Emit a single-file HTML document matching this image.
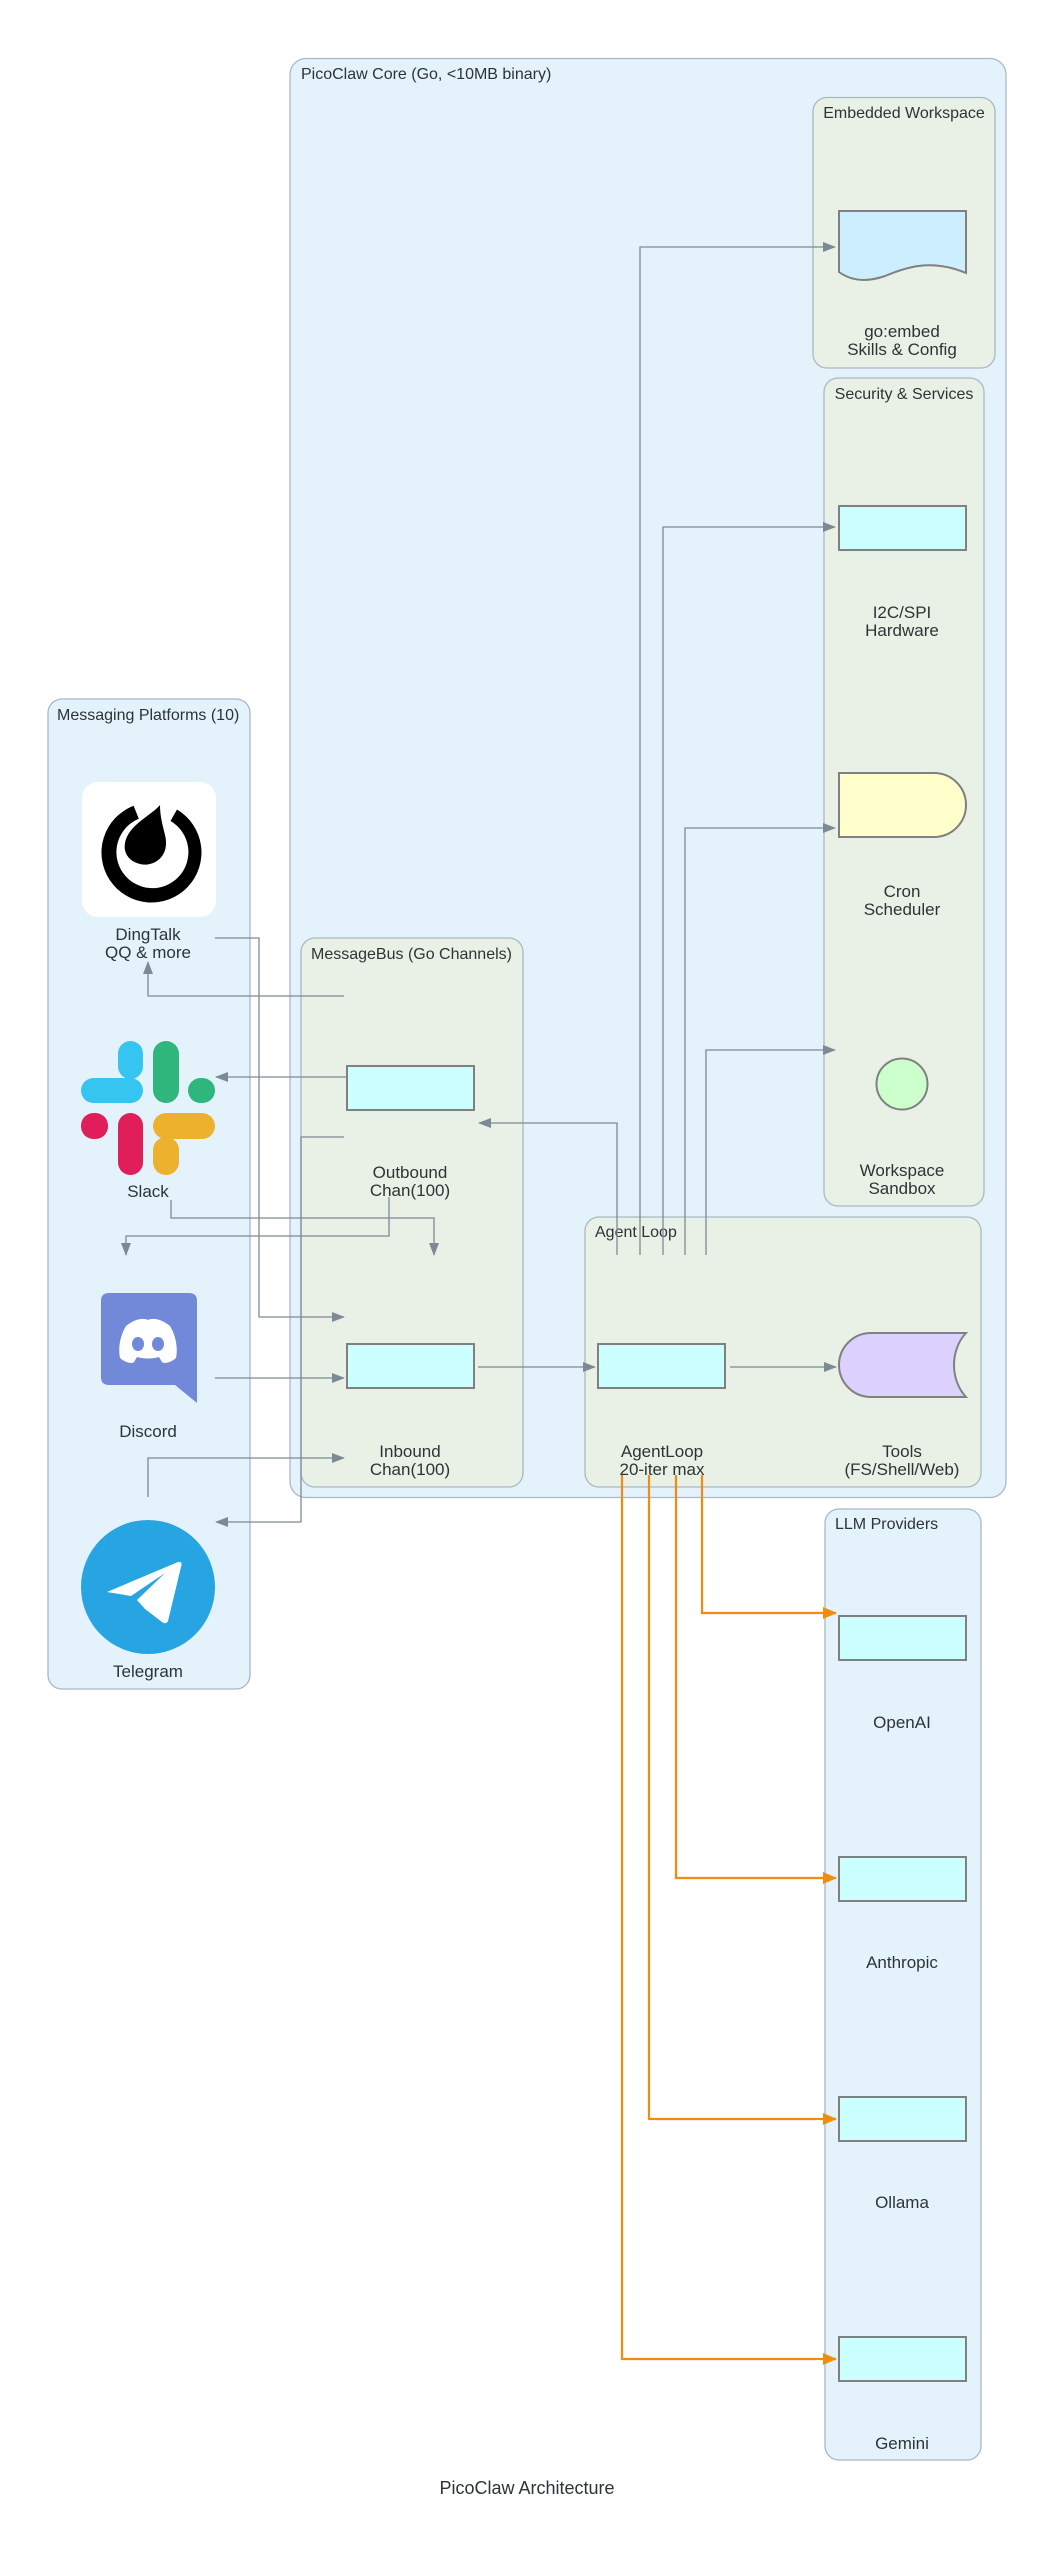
<!DOCTYPE html>
<html><head><meta charset="utf-8"><style>
html,body{margin:0;padding:0;background:#fff;}
svg{display:block;}
text{font-family:"Liberation Sans",Arial,sans-serif;fill:#2d3436;}
.ct{font-size:16px;}
.lb{font-size:17px;text-anchor:middle;}
.e{fill:none;stroke:#7b8a95;stroke-width:1.3;}
.o{fill:none;stroke:#f28c0f;stroke-width:2.2;}
.n{fill:#ccffff;stroke:#808080;stroke-width:2;}
</style></head><body>
<svg width="1054" height="2549" viewBox="0 0 1054 2549" xmlns="http://www.w3.org/2000/svg">
<defs>
<marker id="ag" markerWidth="13" markerHeight="10" refX="12" refY="5" orient="auto" markerUnits="userSpaceOnUse" viewBox="0 0 13 10"><path d="M0,0 L13,5 L0,10 z" fill="#7b8a95"/></marker>
<marker id="ao" markerWidth="14" markerHeight="12" refX="13" refY="6" orient="auto" markerUnits="userSpaceOnUse" viewBox="0 0 14 12"><path d="M0,0 L14,6 L0,12 z" fill="#f28c0f"/></marker>
</defs>

<rect x="290" y="58.5" width="716" height="1439" rx="16" fill="#e4f2fb" stroke="#a9b8c2" stroke-width="1.3"/>
<text class="ct" x="301" y="79">PicoClaw Core (Go, &lt;10MB binary)</text>

<rect x="813" y="97.5" width="182" height="270.5" rx="14" fill="#e9f1e7" stroke="#a9b8c2" stroke-width="1.3"/>
<text class="ct" x="904" y="118" text-anchor="middle">Embedded Workspace</text>
<path d="M839,211 L966,211 L966,273 C930,258 905,268 885,276 C865,283 850,280 839,272 Z" fill="#cceeff" stroke="#808080" stroke-width="2"/>
<text class="lb" x="902" y="337">go:embed</text>
<text class="lb" x="902" y="355">Skills &amp; Config</text>

<rect x="824" y="378" width="160" height="828" rx="14" fill="#e9f1e7" stroke="#a9b8c2" stroke-width="1.3"/>
<text class="ct" x="904" y="399" text-anchor="middle">Security &amp; Services</text>
<rect class="n" x="839" y="506" width="127" height="44"/>
<text class="lb" x="902" y="618">I2C/SPI</text>
<text class="lb" x="902" y="636">Hardware</text>
<path d="M839,773 L934,773 A32,32 0 0 1 934,837 L839,837 Z" fill="#ffffcc" stroke="#808080" stroke-width="2"/>
<text class="lb" x="902" y="897">Cron</text>
<text class="lb" x="902" y="915">Scheduler</text>
<circle cx="902" cy="1084" r="25.5" fill="#ccffcc" stroke="#808080" stroke-width="2"/>
<text class="lb" x="902" y="1176">Workspace</text>
<text class="lb" x="902" y="1194">Sandbox</text>

<rect x="48" y="699" width="202" height="990" rx="14" fill="#e4f2fb" stroke="#a9b8c2" stroke-width="1.3"/>
<text class="ct" x="57" y="720">Messaging Platforms (10)</text>
<rect x="82" y="782" width="134" height="135" rx="16" fill="#fff"/>
<path d="M133.6,805.8 A50,50 0 1 0 177,809.5 L170.5,821 A36,36 0 1 1 138.8,818.8 Z" fill="#000"/>
<path d="M160,805 C152,815 128,825 125,843 C122,860 140,867 150,864 C165,860 168,846 165,835 C162,823 160,815 160,805 Z" fill="#000"/>
<text class="lb" x="148" y="940">DingTalk</text>
<text class="lb" x="148" y="958">QQ &amp; more</text>

<rect x="118" y="1041" width="25" height="38" rx="12.5" fill="#36c5f0"/>
<rect x="81" y="1078" width="62" height="25" rx="12.5" fill="#36c5f0"/>
<rect x="153" y="1041" width="26" height="62" rx="13" fill="#2eb67d"/>
<rect x="188" y="1078" width="27" height="25" rx="12.5" fill="#2eb67d"/>
<rect x="81" y="1113" width="27" height="26" rx="12.5" fill="#e01e5a"/>
<rect x="118" y="1113" width="25" height="62" rx="12.5" fill="#e01e5a"/>
<rect x="153" y="1113" width="62" height="26" rx="13" fill="#ecb22e"/>
<rect x="153" y="1137" width="26" height="38" rx="13" fill="#ecb22e"/>
<text class="lb" x="148" y="1197">Slack</text>

<path d="M109,1293 L189,1293 Q197,1293 197,1301 L197,1403 L175,1385 L109,1385 Q101,1385 101,1377 L101,1301 Q101,1293 109,1293 Z" fill="#7289da"/>
<path d="M126,1326 C136,1318 144,1318 148,1320 C152,1318 160,1318 170,1326 C176,1336 178,1348 176,1358 C170,1363 164,1364 162,1362 L159,1357 C152,1359 144,1359 137,1357 L134,1362 C132,1364 126,1363 120,1358 C118,1348 120,1336 126,1326 Z" fill="#fff"/>
<ellipse cx="138" cy="1344" rx="6" ry="7" fill="#7289da"/>
<ellipse cx="158" cy="1344" rx="6" ry="7" fill="#7289da"/>
<text class="lb" x="148" y="1437">Discord</text>

<circle cx="148" cy="1587" r="67" fill="#27a4e2"/>
<path d="M107,1592 L178,1562 Q183,1561 181,1567 L168,1621 Q166,1625 162,1622 L145,1609 L137,1600 L165,1573 L131,1596 Z" fill="#fff"/>
<text class="lb" x="148" y="1677">Telegram</text>

<rect x="301" y="938" width="222" height="549" rx="14" fill="#e9f1e7" stroke="#a9b8c2" stroke-width="1.3"/>
<text class="ct" x="311" y="959">MessageBus (Go Channels)</text>
<rect class="n" x="347" y="1066" width="127" height="44"/>
<text class="lb" x="410" y="1178">Outbound</text>
<text class="lb" x="410" y="1196">Chan(100)</text>
<rect class="n" x="347" y="1344" width="127" height="44"/>
<text class="lb" x="410" y="1457">Inbound</text>
<text class="lb" x="410" y="1475">Chan(100)</text>

<rect x="585" y="1217" width="396" height="270" rx="14" fill="#e9f1e7" stroke="#a9b8c2" stroke-width="1.3"/>
<text class="ct" x="595" y="1237">Agent Loop</text>
<rect class="n" x="598" y="1344" width="127" height="44"/>
<text class="lb" x="662" y="1457">AgentLoop</text>
<text class="lb" x="662" y="1475">20-iter max</text>
<path d="M871,1333 L966,1333 C950,1350 950,1380 966,1397 L871,1397 A32,32 0 0 1 871,1333 Z" fill="#ddd1ff" stroke="#808080" stroke-width="2"/>
<text class="lb" x="902" y="1457">Tools</text>
<text class="lb" x="902" y="1475">(FS/Shell/Web)</text>

<rect x="825" y="1509" width="156" height="951" rx="14" fill="#e4f2fb" stroke="#a9b8c2" stroke-width="1.3"/>
<text class="ct" x="835" y="1529">LLM Providers</text>
<rect class="n" x="839" y="1616" width="127" height="44"/>
<text class="lb" x="902" y="1728">OpenAI</text>
<rect class="n" x="839" y="1857" width="127" height="44"/>
<text class="lb" x="902" y="1968">Anthropic</text>
<rect class="n" x="839" y="2097" width="127" height="44"/>
<text class="lb" x="902" y="2208">Ollama</text>
<rect class="n" x="839" y="2337" width="127" height="44"/>
<text class="lb" x="902" y="2449">Gemini</text>

<path class="e" d="M640,1255 L640,247 L835,247" marker-end="url(#ag)"/>
<path class="e" d="M663,1255 L663,527 L835,527" marker-end="url(#ag)"/>
<path class="e" d="M685,1255 L685,828 L835,828" marker-end="url(#ag)"/>
<path class="e" d="M706,1255 L706,1050 L835,1050" marker-end="url(#ag)"/>
<path class="e" d="M617,1255 L617,1123 L479,1123" marker-end="url(#ag)"/>
<path class="e" d="M215,938 L259,938 L259,1317 L344,1317" marker-end="url(#ag)"/>
<path class="e" d="M344,996 L148,996 L148,962" marker-end="url(#ag)"/>
<path class="e" d="M347,1077 L216,1077" marker-end="url(#ag)"/>
<path class="e" d="M344,1137 L301,1137 L301,1522 L216,1522" marker-end="url(#ag)"/>
<path class="e" d="M171,1200 L171,1218 L434,1218 L434,1255" marker-end="url(#ag)"/>
<path class="e" d="M389,1197 L389,1236 L126,1236 L126,1255" marker-end="url(#ag)"/>
<path class="e" d="M215,1378 L344,1378" marker-end="url(#ag)"/>
<path class="e" d="M148,1497 L148,1458 L344,1458" marker-end="url(#ag)"/>
<path class="e" d="M478,1367 L595,1367" marker-end="url(#ag)"/>
<path class="e" d="M730,1367 L836,1367" marker-end="url(#ag)"/>

<path class="o" d="M702,1475 L702,1613 L836,1613" marker-end="url(#ao)"/>
<path class="o" d="M676,1475 L676,1878 L836,1878" marker-end="url(#ao)"/>
<path class="o" d="M649,1475 L649,2119 L836,2119" marker-end="url(#ao)"/>
<path class="o" d="M622,1475 L622,2359 L836,2359" marker-end="url(#ao)"/>

<text x="527" y="2494" text-anchor="middle" style="font-size:18px">PicoClaw Architecture</text>
</svg>
</body></html>
